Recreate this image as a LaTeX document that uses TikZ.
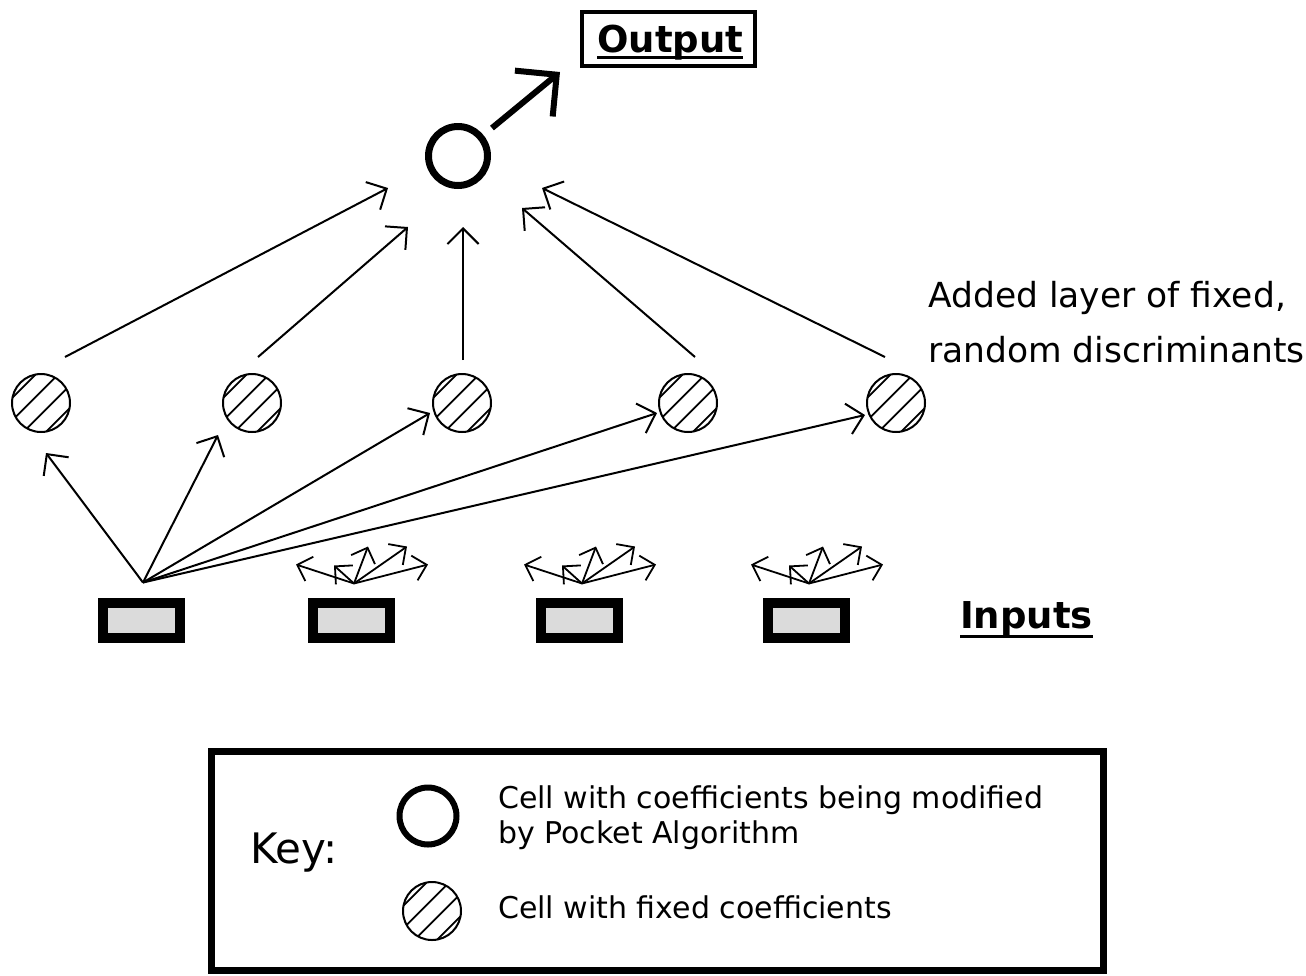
\documentclass[tikz,border=0pt]{standalone}
\usepackage{fontspec}
\setmainfont{DejaVu Sans}
\usetikzlibrary{arrows.meta,calc}
\begin{document}
\begin{tikzpicture}[x=1pt,y=-1pt,
  conn/.style={line width=2pt,-{Straight Barb[angle=90:22pt]}},
  fan/.style={line width=1.8pt,-{Straight Barb[angle=90:18pt]}},
  bigarrow/.style={line width=6pt,-{Straight Barb[angle=90:42pt]}},
  pocket/.style={circle,draw,line width=7pt,minimum size=59pt,inner sep=0pt},
  fixedcell/.style={circle,draw,line width=2pt,minimum size=58pt,inner sep=0pt,
     path picture={\foreach \d in {-24,-8,8,24}{\draw[line width=1.8pt] ([shift={(\d*0.7071-40,\d*0.7071+40)}]path picture bounding box.center) -- ++(80,-80);}}},
  inbox/.style={rectangle,draw,line width=10pt,fill=black!14,minimum width=77pt,minimum height=35pt,inner sep=0pt},
  lbl/.style={inner sep=0pt,anchor=base west},
  headfont/.style={font=\bfseries\fontsize{37}{40}\selectfont},
  notefont/.style={font=\fontsize{34.5}{40}\selectfont},
  keyfont/.style={font=\fontsize{30}{35}\selectfont}
]
\useasboundingbox (0,0) rectangle (1306,975);

% output cell and output label
\node[pocket] (outc) at (458,156) {};
\coordinate (otip) at (560,72);
\draw[bigarrow, shorten <=11pt] (outc) -- (otip);
\node[draw,line width=3.5pt,minimum width=173pt,minimum height=54pt,inner sep=0pt] (outbox) at (668.5,39) {};
\node[lbl,headfont] (outlbl) at (597,52) {Output};
\draw[line width=3pt] ([yshift=-5pt]outlbl.base west) -- ([yshift=-5pt]outlbl.base east);

% hidden layer
\foreach \n/\x in {1/41,2/252,3/462,4/688,5/896}
  \node[fixedcell] (h\n) at (\x,403) {};

\coordinate (t1) at (388,188);
\coordinate (t2) at (408,227);
\coordinate (t3) at (463,227);
\coordinate (t4) at (522,208);
\coordinate (t5) at (542,188);
\draw[conn] ($(h1)+(24,-46)$) -- (t1);
\draw[conn] ($(h2)+(6,-46)$) -- (t2);
\draw[conn] ($(h3)+(1,-43)$) -- (t3);
\draw[conn] ($(h4)+(7,-46)$) -- (t4);
\draw[conn] ($(h5)+(-11,-46)$) -- (t5);

% inputs
\foreach \n/\x in {1/141,2/351,3/579,4/806}
  \node[inbox] (in\n) at (\x,620) {};

\coordinate (o1) at ($(in1.north)+(2,-15)$);
\coordinate (f1) at (46,453);
\coordinate (f2) at (218,435);
\coordinate (f3) at (430,413);
\coordinate (f4) at (657,413);
\coordinate (f5) at (865,415);
\foreach \k in {1,...,5}
  \draw[conn] (o1) -- (f\k);

\foreach \n in {2,3,4}{
  \coordinate (o\n) at ($(in\n.north)+(3,-14)$);
  \foreach \dx/\dy in {-58/-19,-20/-18,14/-37,53/-37,74/-19}
    \draw[fan] (o\n) -- ++(\dx,\dy);
}

\node[lbl,headfont] (inlbl) at (960,628) {Inputs};
\draw[line width=3pt] ([yshift=-8pt]inlbl.base west) -- ([yshift=-8pt]inlbl.base east);

\node[lbl,notefont] (note1) at (928,307) {Added layer of fixed,};
\node[lbl,notefont] (note2) at (928,362) {random discriminants};

% key
\node[draw,line width=7pt,minimum width=892pt,minimum height=219pt,inner sep=0pt] (keybox) at (657,860.5) {};
\node[lbl,font=\fontsize{42}{48}\selectfont] (key) at (250,863) {Key:};
\node[pocket,line width=6pt,minimum size=57pt] (kpocket) at (428,816) {};
\node[fixedcell] (kfixed) at (432,911) {};
\node[lbl,keyfont] (k1) at (498,808) {Cell with coefficients being modified};
\node[lbl,keyfont] (k2) at (498,843) {by Pocket Algorithm};
\node[lbl,keyfont] (k3) at (498,918) {Cell with fixed coefficients};
\end{tikzpicture}
\end{document}
